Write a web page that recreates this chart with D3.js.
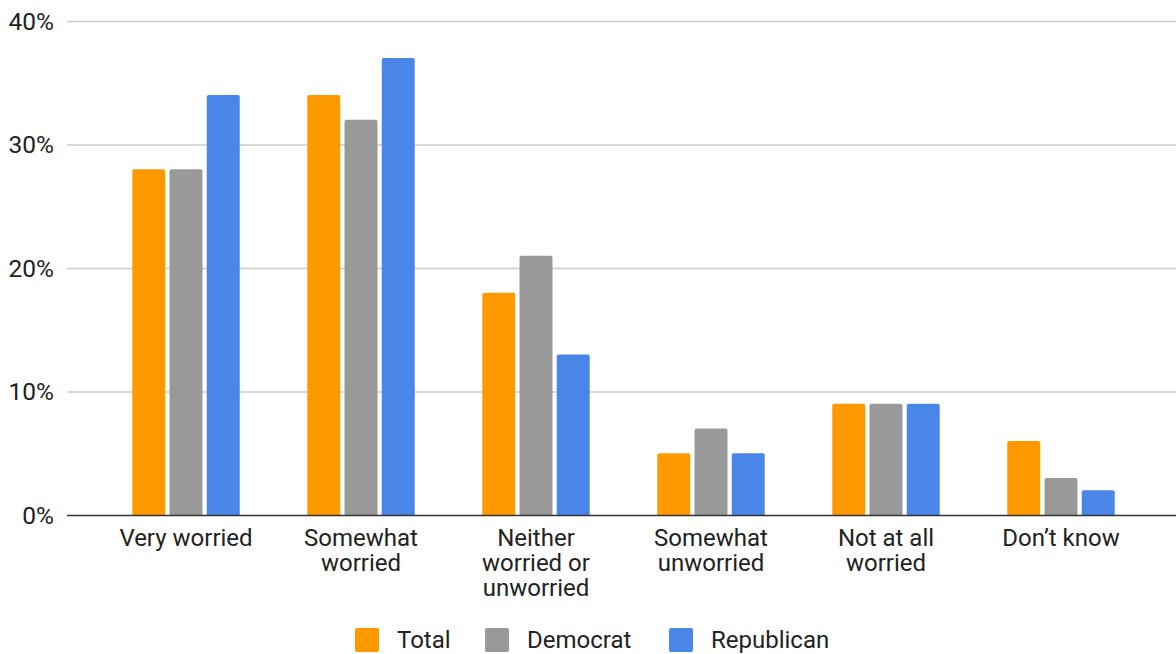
<!DOCTYPE html>
<html><head><meta charset="utf-8">
<script src="https://cdn.jsdelivr.net/npm/d3@7"></script>
<style>body{margin:0;background:#fff;font-family:Roboto,sans-serif;}</style>
</head><body><svg id="c" width="1176" height="654"></svg>
<script>
const categories = [["Very worried"],["Somewhat","worried"],["Neither","worried or","unworried"],["Somewhat","unworried"],["Not at all","worried"],["Don\u2019t know"]];
const seriesNames = ["Total","Democrat","Republican"];
const total = [28,34,18,5,9,6];
const democrat = [28,32,21,7,9,3];
const republican = [34,37,13,5,9,2];
const yTicks = [0,10,20,30,40];
const colors = ["#ff9900","#999999","#4a86e8"];
const series = [total, democrat, republican];

const svg = d3.select("#c");
const y = d3.scaleLinear().domain([0,40]).range([515,21]);
const x0 = d3.scaleBand().domain(d3.range(categories.length)).range([98.5,1148.5]).paddingInner(0.386).paddingOuter(0.193);
const x1 = d3.scaleBand().domain(d3.range(3)).range([0,x0.bandwidth()]).paddingInner(0.114);

// grid
svg.append("g").selectAll("line").data(yTicks.filter(d=>d>0)).join("line")
  .attr("x1",67).attr("x2",1176).attr("y1",d=>y(d)+0.5).attr("y2",d=>y(d)+0.5)
  .attr("stroke","#cccccc").attr("stroke-width",1.5);
svg.append("g").selectAll("text").data(yTicks).join("text")
  .attr("x",54).attr("y",d=>y(d)).attr("dy","0.36em").attr("text-anchor","end")
  .attr("font-size",24.5).attr("fill","#222").text(d=>d+"%");

// bars
const g = svg.append("g");
categories.forEach((c,i)=>{
  series.forEach((s,j)=>{
    const x = x0(i)+x1(j), w = x1.bandwidth(), top = y(s[i]), r=2;
    g.append("path").attr("fill",colors[j])
     .attr("d",`M${x},515V${top+r}Q${x},${top} ${x+r},${top}H${x+w-r}Q${x+w},${top} ${x+w},${top+r}V515Z`);
  });
});
svg.append("line").attr("x1",67).attr("x2",1176).attr("y1",515.5).attr("y2",515.5).attr("stroke","#333").attr("stroke-width",1.5);

// category labels
const cl = svg.append("g");
categories.forEach((lines,i)=>{
  const cx = x0(i)+x0.bandwidth()/2;
  const t = cl.append("text").attr("text-anchor","middle").attr("font-size",24).attr("fill","#222");
  lines.forEach((l,k)=>t.append("tspan").attr("x",cx).attr("y",546+k*25).text(l));
});

// legend
const lx = [355,485,669];
const lg = svg.append("g");
seriesNames.forEach((n,j)=>{
  lg.append("rect").attr("x",lx[j]).attr("y",628).attr("width",24).attr("height",24).attr("rx",2).attr("fill",colors[j]);
  lg.append("text").attr("x",lx[j]+42).attr("y",648).attr("font-size",24).attr("fill","#222").text(n);
});
</script></body></html>
